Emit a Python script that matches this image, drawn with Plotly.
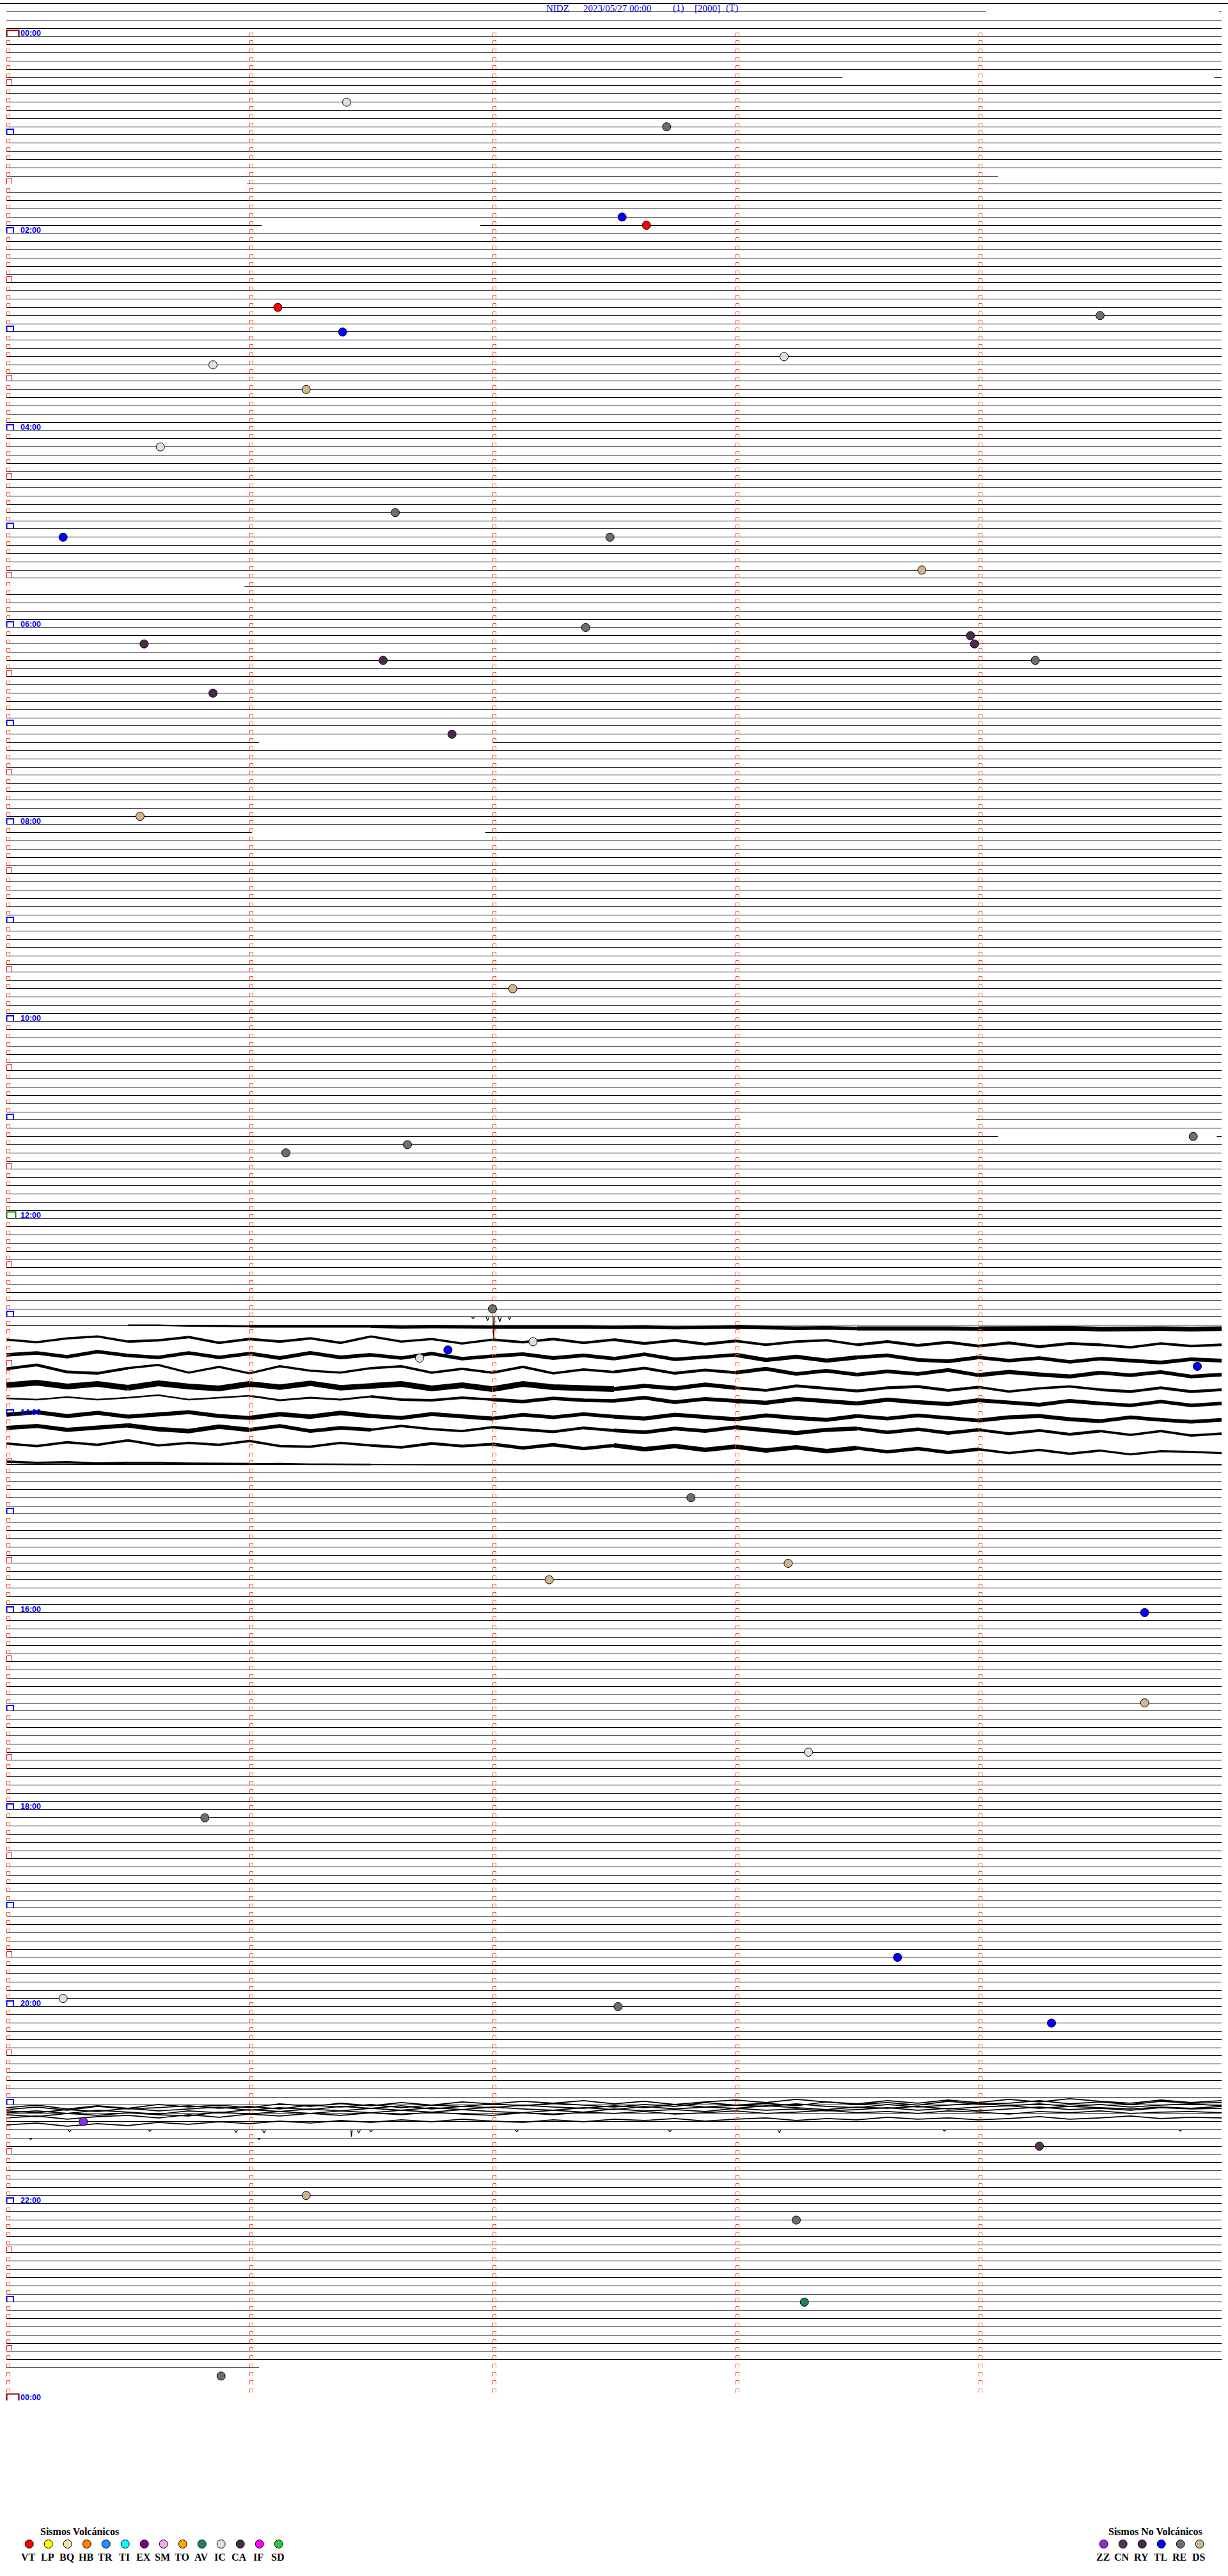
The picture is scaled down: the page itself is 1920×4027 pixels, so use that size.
import numpy as np
import plotly.graph_objects as go

# ---------------------------------------------------------------- data
TITLE_PARTS = ["NIDZ", "2023/05/27 00:00", "(1)", "[2000]", "(T)"]

MINUTES_PER_ROW = 5
N_ROWS = 288                 # 24 h of 5-minute rows
TRACE_FIRST_ROW = -4
TRACE_LAST_ROW = 284

# rows whose trace is only partly present (minutes within the row)
ROW_SEGMENTS = {
    -4: [(-0.03, 5.03)],
    -3: [(0, 4.03), (4.99, 5)],
    5: [(0, 3.44), (4.97, 5)],
    17: [(0, 4.08)],
    18: [(0.99, 5)],
    23: [(0, 1.05), (1.95, 5)],
    67: [(0.98, 5)],
    86: [(0, 1.04), (2.0, 5)],
    97: [(0, 1.01), (1.97, 5)],
    132: [(0, 3.02), (3.99, 5)],
    134: [(0, 4.08), (4.98, 5)],
    284: [(0, 1.04)],
}
NOISE_SKIP_ROWS = list(range(158, 174))

# noisy traces 13:05-14:30 : start row, centre offsets (px, 41 samples over the row), noise half-width (px, 10 spans)
NOISE_BASE_ROWS = [157, 158.75, 160.6, 162.3, 164.3, 165.9, 167.9, 169.5, 171.4, 174]
NOISE_OFFSETS_PX = [
    [0, 0, 0, 0, 0, 0, 1, 1.5, 2, 2, 2.5, 2, 2, 3, 2.5, 3, 3, 2.5, 3, 3, 3.5, 3, 4, 3.5, 3, 4, 4.5, 4,
     5, 4.5, 4, 5, 5.5, 5, 4.5, 5, 6, 5, 5.5, 6, 5.5],
    [0, 4, -2, -5, 3, 1, -4, 5, -1, 3, -2, 5, -5, 3, -1, 6, 0, 4, -1, 5,
     0, 6, 1, 7, 2, 8, 3, 1, 8, 3, 9, 4, 10, 5, 11, 6, 8, 12, 6, 10, 8],
    [0, -3, 3, -5, 1, 4, -3, 4, -2, 5, -3, 4, 0, 5, -2, 6, 2, -1, 5, 1,
     6, -1, 7, 3, 0, 8, 3, 9, 4, 1, 8, 10, 4, 9, 5, 11, 6, 9, 12, 7, 9],
    [0, -6, 5, 7, -1, -6, 6, -3, 7, -4, 3, 6, -1, -4, 6, 0, 6, -3, 7, 1,
     5, -1, 7, 2, 6, 0, 8, 3, 9, 4, 8, 2, 10, 5, 9, 12, 6, 10, 5, 12, 9],
    [0, -4, 2, -2, 4, -3, 2, 5, -2, 3, -3, 4, 1, -2, 5, 0, 6, -2, 3, 5,
     6, 1, 5, -1, 4, 8, 1, 5, 9, 4, 2, 8, 3, 10, 5, 2, 7, 10, 4, 10, 7],
    [0, 2, -2, 2, -1, -5, 2, -1, -4, 3, -1, 2, -3, 2, 3, -1, 2, 5, 0, 3,
     4, -1, 6, 1, 4, 7, 1, 5, 8, 2, 6, 9, 3, 7, 10, 4, 8, 11, 5, 11, 8],
    [0, -4, 2, -3, 3, -1, -4, 2, 5, -1, 3, -3, 2, 5, -1, 3, 6, 0, 4, -1,
     3, 6, 0, 4, 7, 1, 5, 8, 2, 6, 1, 5, 9, 4, 2, 7, 10, 4, 8, 11, 8],
    [0, -3, 3, -1, -4, 2, 5, -2, 3, -3, 5, 0, 3, -3, 2, 5, -1, 3, 6, 0,
     4, 7, 1, 5, -1, 4, 8, 3, 1, 7, 2, 8, 3, 9, 4, 10, 5, 11, 5, 12, 9],
    [0, 4, -2, 2, -5, 3, -1, 2, -4, 4, 5, -1, 3, 6, 0, 4, 1, 7, 2, 8,
     3, 9, 4, 10, 5, 11, 6, 12, 7, 13, 8, 14, 9, 15, 10, 16, 11, 17, 12, 13, 15],
    [-5, -3, -4, -2, -3, -3, -2, -2, -1.5, -2, -1, -1, -0.5, 0, 0, 0, 0, 0, 0, 0, 0, 0, 0, 0, 0, 0, 0, 0,
     0, 0, 0, 0, 0, 0, 0, 0, 0, 0, 0, 0, 0],
]
NOISE_HALFWIDTH_PX = [
    [0, 0.5, 1, 1.5, 1.8, 1.8, 2, 2.5, 3, 3],
    [1, 1.2, 1.2, 1, 1.2, 1.5, 1.2, 1.5, 1.5, 1.2],
    [2, 2, 2.2, 2, 2.2, 2, 2.5, 2.2, 2, 2.2],
    [1.5, 1, 1, 1.2, 1.2, 1.5, 2.2, 2.2, 2.5, 2.2],
    [3.8, 3.8, 3.5, 3.8, 3.8, 2.5, 1.5, 1.5, 1.2, 1.5],
    [0.6, 0.6, 0.8, 1.2, 2, 2.2, 2.5, 2.5, 2.2, 2],
    [2.5, 2.5, 2.8, 2.5, 2.2, 2.5, 2.5, 2.2, 2.5, 2.2],
    [2.5, 2.8, 2.2, 1.2, 1.5, 2.2, 2.5, 2, 1.5, 1.2],
    [1.2, 1.2, 1.2, 1.5, 2, 2.8, 2.8, 2, 1.2, 1],
    [1.2, 1, 0.6, 0, 0, 0, 0, 0, 0, 0],
]

# overlapping long-period traces around 21:00 (px offsets from row 252, 41 samples)
TANGLE_BASE_ROW = 252
TANGLE_OFFSETS_PX = [
    [4, 0, 6, 1, 5, -1, 3, 0, 4, -2, 2, -3, 1, -4, 0, -5, -2, -6, -3, -7, -2, -6, -1, -5, -8, -4, -9, -5, -2, -7,
     -3, -8, -4, -9, -5, -10, -6, -3, -8, -4, -7],
    [7, 3, 8, 2, 6, 4, 1, 5, 2, 6, 0, 3, -1, 4, 0, 2, -2, 1, -3, 0, 3, -1, 2, -4, 0, -3, 1, -5, -1, -4,
     0, -6, -2, -3, -7, -2, -5, -1, -6, -3, -4],
    [9, 12, 7, 10, 5, 9, 6, 3, 8, 4, 7, 2, 5, 1, 6, 2, 4, 0, 3, 5, 1, 4, -1, 3, 0, 2, -2, 2, 4, -1,
     3, 0, -3, 1, -2, 2, -1, 3, 0, -2, 1],
    [12, 9, 13, 8, 11, 14, 9, 12, 7, 10, 6, 9, 5, 8, 4, 7, 3, 6, 8, 4, 7, 2, 6, 3, 5, 1, 4, 7, 3, 5,
     2, 6, 3, 1, 5, 2, 4, 6, 3, 5, 2],
    [15, 18, 13, 16, 12, 15, 17, 11, 14, 10, 13, 9, 12, 8, 11, 7, 10, 12, 8, 11, 6, 9, 7, 10, 5, 8, 6, 9, 7, 4,
     8, 5, 9, 6, 3, 7, 5, 8, 4, 6, 5],
    [20, 17, 22, 18, 16, 20, 15, 19, 14, 17, 13, 16, 12, 15, 11, 14, 16, 12, 15, 11, 13, 10, 14, 12, 9, 13, 11, 8, 12, 10,
     13, 9, 11, 14, 10, 12, 9, 13, 11, 10, 12],
    [31, 28, 33, 29, 32, 27, 30, 26, 29, 25, 28, 24, 27, 23, 26, 22, 25, 27, 23, 26, 22, 24, 21, 25, 22, 20, 24, 21, 23, 19,
     22, 20, 23, 21, 18, 22, 20, 17, 21, 19, 20],
]

# small downward excursions on otherwise quiet rows
DIP_ROWS = [156] * 5 + [255] * 12 + [256] * 2
DIP_MINUTES = [1.92, 1.98, 2.005, 2.03, 2.07,
               0.26, 0.59, 0.945, 1.06, 1.42, 1.45, 1.5, 2.1, 2.73, 3.18, 3.86, 4.83,
               0.1, 1.04]
DIP_DEPTH_PX = [3, 6, 34, 8, 4,
                3, 2.5, 4, 5, 11, 5, 3, 3, 3, 4, 2, 2,
                2, 2]

# classified events
EVENT_TIMES = ["00:41:24", "00:57:43", "01:52:32", "01:57:38", "02:46:07", "02:54:30", "03:01:23",
               "03:20:51", "03:18:12", "03:36:14", "04:10:38", "04:51:36", "05:05:14", "05:07:29",
               "05:28:46", "06:02:23", "06:08:58", "06:13:59", "06:10:34", "06:24:14", "06:21:33",
               "06:40:51", "07:06:50", "07:55:33", "09:42:05", "11:16:39", "11:21:09", "11:14:53",
               "12:57:00", "13:21:49", "13:34:54", "13:17:10", "13:26:42", "14:52:49", "15:33:13",
               "15:42:14", "16:04:41", "16:59:41", "17:28:18", "18:05:49", "19:33:40", "19:55:14",
               "20:02:31", "20:14:18", "21:10:19", "21:29:15", "21:56:14", "22:13:15", "23:03:17",
               "23:45:53"]
EVENT_TYPES = ["IC", "RE", "TL", "VT", "VT", "RE", "TL",
               "IC", "IC", "DS", "IC", "RE", "TL", "RE",
               "DS", "RE", "CA", "CA", "CA", "RE", "CA",
               "CA", "CA", "DS", "DS", "RE", "RE", "RE",
               "RE", "TL", "TL", "IC", "IC", "RE", "DS",
               "DS", "TL", "DS", "IC", "RE", "TL", "IC",
               "RE", "TL", "ZZ", "CN", "DS", "RE", "AV",
               "RE"]

VOLC_TYPES = ["VT", "LP", "BQ", "HB", "TR", "TI", "EX", "SM", "TO", "AV", "IC", "CA", "IF", "SD"]
NONVOLC_TYPES = ["ZZ", "CN", "RY", "TL", "RE", "DS"]
TYPE_COLORS = {
    "VT": "#ff0000", "LP": "#ffff00", "BQ": "#f2e2a6", "HB": "#ff8000", "TR": "#1e8fff",
    "TI": "#00ffff", "EX": "#800080", "SM": "#eeaaea", "TO": "#ffa500", "AV": "#1f7f62",
    "IC": "#e0e0e0", "CA": "#4b2a4b", "IF": "#ff00ff", "SD": "#33c333",
    "ZZ": "#8a2be2", "CN": "#553355", "RY": "#4e2650", "TL": "#0000ff", "RE": "#6e6e6e",
    "DS": "#d2b48c",
}

# ---------------------------------------------------------------- layout constants
W, H = 1920, 4027
X0_PX, PX_PER_MIN = 10, 380.0
Y0_PX, PX_PER_ROW = 57, 12.833
TICK_COLOR = "#ff4a10"
HOUR_COLOR = "#0000ff"


def mx(px):
    return px / PX_PER_MIN


def ry(px):
    return px / PX_PER_ROW


def snap(r):
    """row -> row value whose screen position falls on a pixel centre (crisp 1px lines)"""
    return (np.floor(Y0_PX + r * PX_PER_ROW) + 0.5 - Y0_PX) / PX_PER_ROW


fig = go.Figure()

# ---- row base lines
lx, ly = [], []
for r in range(TRACE_FIRST_ROW, TRACE_LAST_ROW + 1):
    if r in NOISE_SKIP_ROWS:
        continue
    for a, b in ROW_SEGMENTS.get(r, [(0, MINUTES_PER_ROW)]):
        lx += [a, b, None]
        ly += [snap(r), snap(r), None]
fig.add_trace(go.Scatter(x=lx, y=ly, mode="lines", line=dict(color="black", width=1),
                         hoverinfo="skip", showlegend=False))

# ---- noisy traces (thick ribbons following the long-period wiggle)
for base, offs, hws in zip(NOISE_BASE_ROWS, NOISE_OFFSETS_PX, NOISE_HALFWIDTH_PX):
    n = len(offs)
    xs = np.linspace(0, MINUTES_PER_ROW, n)
    ys = base + np.array(offs, dtype=float) / PX_PER_ROW
    step = (n - 1) // len(hws)
    for j, hw in enumerate(hws):
        a, b = j * step, min(n - 1, (j + 1) * step)
        fig.add_trace(go.Scatter(x=xs[a:b + 1], y=ys[a:b + 1], mode="lines",
                                 line=dict(color="black", width=2 * hw + 1.4),
                                 hoverinfo="skip", showlegend=False))

# ---- tangled traces near 21:00
for offs in TANGLE_OFFSETS_PX:
    xs = np.linspace(0, MINUTES_PER_ROW, len(offs))
    ys = TANGLE_BASE_ROW + np.array(offs, dtype=float) / PX_PER_ROW
    fig.add_trace(go.Scatter(x=xs, y=ys, mode="lines", line=dict(color="black", width=1.7),
                             hoverinfo="skip", showlegend=False))

# ---- dips
dx, dy = [], []
for r, m, d in zip(DIP_ROWS, DIP_MINUTES, DIP_DEPTH_PX):
    hw = mx(1 if d > 8 else 2.5)
    dx += [m - hw, m, m + hw, None]
    dy += [snap(r), snap(r) + ry(d), snap(r), None]
fig.add_trace(go.Scatter(x=dx, y=dy, mode="lines", line=dict(color="black", width=1.2),
                         hoverinfo="skip", showlegend=False))

# ---- minute ticks
tw, th = mx(5), ry(6)
tx, ty = [], []
for r in range(N_ROWS):
    yb = snap(r)
    for c in range(MINUTES_PER_ROW):
        if c == 0 and r % 6 == 0:
            continue
        x0 = c + mx(0.5)
        tx += [x0, x0, x0 + tw, x0 + tw, None]
        ty += [yb, yb - th, yb - th, yb, None]
fig.add_trace(go.Scatter(x=tx, y=ty, mode="lines", line=dict(color=TICK_COLOR, width=1),
                         hoverinfo="skip", showlegend=False))


def add_box(rows, w_px, h_px, color, width):
    bx, by = [], []
    for r in rows:
        x0 = mx(0.5)
        yb = snap(r)
        bx += [x0, x0, x0 + mx(w_px), x0 + mx(w_px), None]
        by += [yb, yb - ry(h_px), yb - ry(h_px), yb, None]
    fig.add_trace(go.Scatter(x=bx, y=by, mode="lines", line=dict(color=color, width=width),
                             hoverinfo="skip", showlegend=False))


hour_rows = list(range(0, N_ROWS + 1, 12))
add_box([r for r in range(6, N_ROWS, 12)], 8, 9, "#ff0000", 1)
add_box([r for r in hour_rows if r % 144 != 0], 10.5, 8.5, HOUR_COLOR, 2)
add_box([144], 14, 10, "#008000", 2)
add_box([0, N_ROWS], 19, 10, "#8b0000", 2.2)

# ---- hour labels
annotations = []
for r in range(0, N_ROWS + 1, 24):
    hh = (r // 12) % 24
    annotations.append(dict(x=mx(20), y=r - ry(5), xref="x", yref="y", text=f"<b>{hh:02d}:00</b>",
                            showarrow=False, xanchor="left", yanchor="middle",
                            font=dict(family="Liberation Sans, Arial, sans-serif", size=12.5, color=HOUR_COLOR)))

# ---- events
ev_min = np.array([int(s[:2]) * 60 + int(s[3:5]) + int(s[6:8]) / 60 for s in EVENT_TIMES])
ev_row = np.floor(ev_min / MINUTES_PER_ROW)
ev_x = ev_min - ev_row * MINUTES_PER_ROW
ev_types = np.array(EVENT_TYPES)
for t in VOLC_TYPES + NONVOLC_TYPES:
    sel = ev_types == t
    if not sel.any():
        continue
    fig.add_trace(go.Scatter(x=ev_x[sel], y=ev_row[sel], mode="markers",
                             marker=dict(size=13, color=TYPE_COLORS[t], line=dict(color="black", width=1)),
                             name=t, showlegend=False))

# ---- header (pixel axes x2/y2)
TITLE_X_PX = [852, 910, 1050, 1084, 1133]
for txt, xp in zip(TITLE_PARTS, TITLE_X_PX):
    annotations.append(dict(x=xp, y=12.8, xref="x2", yref="y2", text=txt, showarrow=False,
                            xanchor="left", yanchor="middle",
                            font=dict(family="Liberation Serif, Times New Roman, serif", size=15, color=HOUR_COLOR)))

# ---- legend
LEG_STEP = 30
LEG_VOLC_X0, LEG_NONVOLC_X0 = 45.7, 1725.7
LEG_MARK_Y, LEG_LABEL_Y, LEG_TITLE_Y = 3977, 3997, 3957
legend_font = dict(family="Liberation Serif, Times New Roman, serif", size=16, color="black")
for types, x0, title, tx0 in [(VOLC_TYPES, LEG_VOLC_X0, "Sismos Volcánicos", 124),
                              (NONVOLC_TYPES, LEG_NONVOLC_X0, "Sismos No Volcánicos", 1806)]:
    xs = [x0 + i * LEG_STEP for i in range(len(types))]
    fig.add_trace(go.Scatter(x=xs, y=[LEG_MARK_Y] * len(types), xaxis="x2", yaxis="y2", mode="markers",
                             marker=dict(size=13, color=[TYPE_COLORS[t] for t in types],
                                         line=dict(color="black", width=1)),
                             hoverinfo="skip", showlegend=False))
    for t, xp in zip(types, xs):
        annotations.append(dict(x=xp - 1.5, y=LEG_LABEL_Y, xref="x2", yref="y2", text=f"<b>{t}</b>",
                                showarrow=False, xanchor="center", yanchor="middle", font=legend_font))
    annotations.append(dict(x=tx0, y=LEG_TITLE_Y, xref="x2", yref="y2", text=f"<b>{title}</b>",
                            showarrow=False, xanchor="center", yanchor="middle", font=legend_font))

fig.update_layout(
    width=W, height=H, margin=dict(l=0, r=0, t=0, b=0, pad=0),
    paper_bgcolor="white", plot_bgcolor="white", showlegend=False,
    xaxis=dict(range=[-mx(X0_PX), mx(W - X0_PX)], visible=False, fixedrange=True),
    yaxis=dict(range=[ry(H - Y0_PX), -ry(Y0_PX)], visible=False, fixedrange=True),
    xaxis2=dict(range=[0, W], visible=False, overlaying="x", anchor="y2"),
    yaxis2=dict(range=[H, 0], visible=False, overlaying="y", anchor="x2"),
    annotations=annotations,
)

fig.write_html("out.html", config={"displayModeBar": False},
               post_script="document.body.style.margin='0';document.body.style.padding='0';")
